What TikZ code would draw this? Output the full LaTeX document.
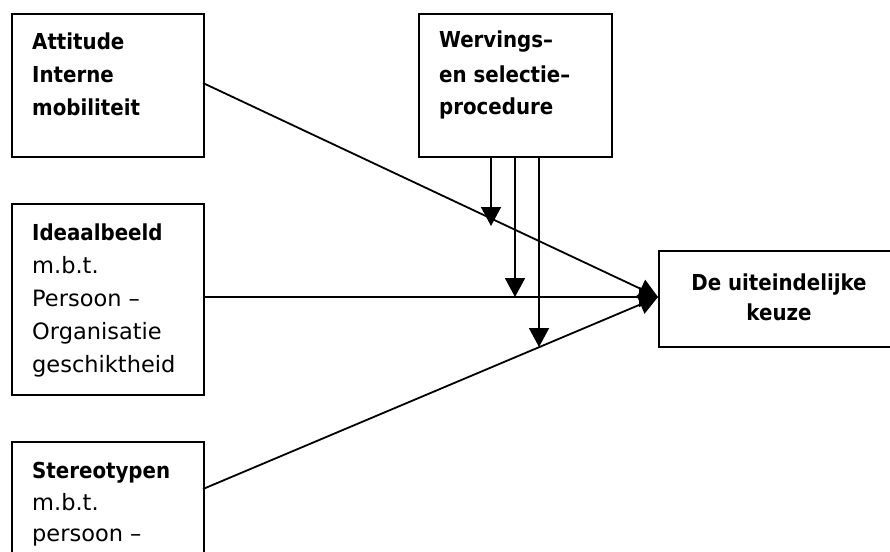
\documentclass[tikz,border=0pt]{standalone}
\usepackage{fontspec}
\setmainfont{DejaVu Sans}
\newfontfamily\condfont{DejaVu Sans Condensed}
\usetikzlibrary{arrows.meta}
\tikzset{
  box/.style={draw, line width=2pt, inner sep=0pt, anchor=north west},
  bt/.style={anchor=base west, inner sep=0pt, font=\fontsize{22}{26}\condfont\bfseries},
  rt/.style={anchor=base west, inner sep=0pt, font=\fontsize{22.5}{26}\selectfont},
  ct/.style={anchor=base, inner sep=0pt, font=\fontsize{22}{26}\condfont\bfseries},
  conn/.style={line width=1.8pt, -{Triangle[length=19pt,width=20pt]}},
}
\begin{document}
\begin{tikzpicture}[x=1pt,y=-1pt]
\useasboundingbox (0,0) rectangle (890,551);
\clip (0,0) rectangle (890,551);
% boxes
\node[box, minimum width=192pt, minimum height=143pt] (b1) at (11,13) {};
\node[box, minimum width=193pt, minimum height=143pt] (b2) at (418,13) {};
\node[box, minimum width=192pt, minimum height=191pt] (b3) at (11,203) {};
\node[box, minimum width=192pt, minimum height=140pt] (b4) at (11,441) {};
\node[box, minimum width=240pt, minimum height=96pt] (b5) at (658,250) {};
% texts
\node[bt] (t11) at (32,49) {Attitude};
\node[bt] (t12) at (32,82) {Interne};
\node[bt] (t13) at (32,115) {mobiliteit};
\node[bt] (t21) at (439,48) {Wervings–};
\node[bt] (t22) at (439,82) {en selectie–};
\node[bt] (t23) at (439,114) {procedure};
\node[bt] (t31) at (32,240) {Ideaalbeeld};
\node[rt] (t32) at (32,273) {m.b.t.};
\node[rt] (t33) at (32,306) {Persoon –};
\node[rt] (t34) at (32,339) {Organisatie};
\node[rt] (t35) at (32,372) {geschiktheid};
\node[bt] (t41) at (32,478) {Stereotypen};
\node[rt] (t42) at (32,510) {m.b.t.};
\node[rt] (t43) at (32,541) {persoon –};
\node[ct] (t51) at (779,290) {De uiteindelijke};
\node[ct] (t52) at (779,320) {keuze};
% connectors
\coordinate (s1) at (203,83);
\coordinate (s3) at (203,297);
\coordinate (s4) at (203,489);
\coordinate (tg) at (658,297);
\draw[conn] (s1) -- (tg);
\draw[conn] (s3) -- (tg);
\draw[conn] (s4) -- (tg);
\coordinate (v1) at (491,226);
\coordinate (v2) at (515,297);
\coordinate (v3) at (539,347);
\draw[conn] (b2.south -| v1) -- (v1);
\draw[conn] (b2.south -| v2) -- (v2);
\draw[conn] (b2.south -| v3) -- (v3);
\end{tikzpicture}
\end{document}
